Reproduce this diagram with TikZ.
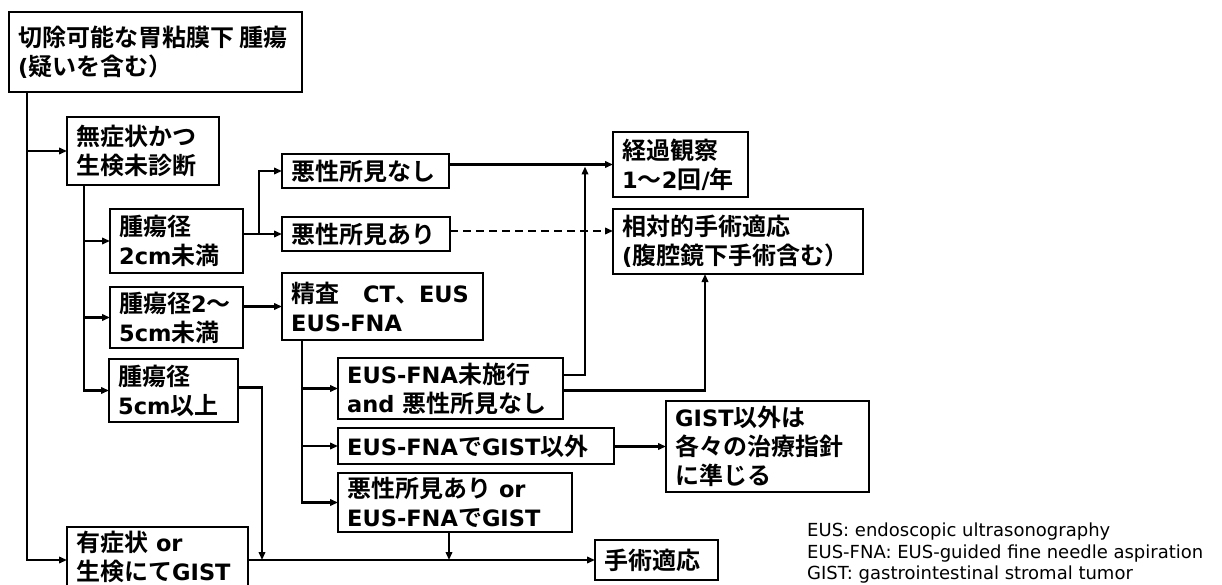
\documentclass[tikz,border=0pt]{standalone}
\usepackage{fontspec}
\usetikzlibrary{arrows.meta}
\newfontfamily\jpfont{Noto Sans CJK JP}[UprightFont=* Bold]
\newfontfamily\enfont{DejaVu Sans}[UprightFont=* Bold]
\newfontfamily\legfont{DejaVu Sans}
\newcommand\EN[1]{{\enfont\fontsize{22.5}{29}\selectfont #1}}
\tikzset{
  boxn/.style={draw, line width=2.6pt, outer sep=0pt, inner sep=0pt, anchor=north west},
  txt/.style={anchor=west, align=left, inner sep=0pt, font=\jpfont\fontsize{24}{29}\selectfont},
  conn/.style={line width=2.2pt, -{Triangle[length=8pt,width=6.5pt]}},
  dashconn/.style={conn, dash pattern=on 8pt off 5pt},
}
\newcommand\bx[6]{%
  \pgfmathsetmacro\bxw{#4-#2}%
  \pgfmathsetmacro\bxh{#5-#3}%
  \node[boxn, minimum width=\bxw pt, minimum height=\bxh pt] (#1) at (#2,#3) {};
  \node[txt] (#1-t) at ([xshift=9pt]#1.west) {#6};
}
\begin{document}
\begin{tikzpicture}[x=1pt,y=-1pt]
\clip (0,0) rectangle (1222,585);
\fill[white] (0,0) rectangle (1222,585);

\bx{top}{9}{12}{302}{92}{切除可能な胃粘膜下 腫瘍\\\EN{(}疑いを含む）}
\bx{asym}{67}{117}{219}{185}{無症状かつ\\生検未診断}
\bx{d2}{110}{209}{243}{273}{腫瘍径\\\EN{2cm}未満}
\bx{d25}{110}{287}{243}{348}{腫瘍径\EN{2}～\\\EN{5cm}未満}
\bx{d5}{109}{359}{238}{422}{腫瘍径\\\EN{5cm}以上}
\bx{sym}{67}{527}{248}{587}{有症状\EN{\ or}\\生検にて\EN{GIST}}
\bx{mn}{282}{154}{449}{188}{悪性所見なし}
\bx{ma}{282}{217}{450}{251}{悪性所見あり}
\bx{exam}{282}{273}{483}{340}{精査　\EN{CT}、\EN{EUS}\\\EN{EUS-FNA}}
\bx{obs}{613}{132}{748}{197}{経過観察\\\EN{1}～\EN{2}回\EN{/}年}
\bx{rel}{613}{209}{863}{274}{相対的手術適応\\\EN{(}腹腔鏡下手術含む）}
\bx{nf}{338}{358}{563}{419}{\EN{EUS-FNA}未施行\\\EN{and\ }悪性所見なし}
\bx{ng}{338}{428}{614}{464}{\EN{EUS-FNA}で\EN{GIST}以外}
\bx{mal}{338}{473}{572}{532}{悪性所見あり\EN{\ or}\\\EN{EUS-FNA}で\EN{GIST}}
\bx{gist}{666}{401}{869}{492}{\EN{GIST}以外は\\各々の治療指針\\に準じる}
\bx{op}{595}{540}{718}{580}{手術適応}

\node[anchor=north west, align=left, inner sep=0pt,
      font=\legfont\fontsize{18}{21.5}\selectfont] (legend) at (807,523)
  {EUS: endoscopic ultrasonography\\EUS-FNA: EUS-guided fine needle aspiration\\GIST: gastrointestinal stromal tumor};

% connectors
\coordinate (tr) at ([xshift=18pt]top.south west);
\draw[conn] (tr) |- ([yshift=-3pt]sym.west);
\draw[conn] (tr |- asym.west) -- (asym.west);
\coordinate (ar) at ([xshift=17pt]asym.south west);
\draw[conn] (ar) |- (d5.west);
\draw[conn] (ar |- d2.west) -- (d2.west);
\draw[conn] (ar |- d25.west) -- (d25.west);
\draw[conn] (d2.east |- ma.west) -- (ma.west);
\coordinate (br) at ([xshift=16pt]d2.east |- ma.west);
\draw[conn] (br) |- (mn.west);
\draw[conn] (mn.east |- obs.west) -- (obs.west);
\draw[dashconn] ([yshift=3pt]ma.east) -- ([yshift=3pt]ma.east -| rel.west);
\draw[conn] (d25.east |- exam.west) -- (exam.west);
\coordinate (er) at ([xshift=20pt]exam.south west);
\draw[conn] (er) |- (mal.west);
\draw[conn] (er |- nf.west) -- (nf.west);
\draw[conn] (er |- ng.west) -- (ng.west);
\coordinate (dr) at ([xshift=24pt]d5.east |- op.west);
\draw[conn] ([yshift=3pt]d5.east) -| (dr);
\draw[conn] (sym.east |- op.west) -- (op.west);
\coordinate (mr) at ([xshift=111pt]mal.south west);
\draw[conn] (mr) -- (mr |- op.west);
\coordinate (nr) at ([xshift=22pt]nf.east |- obs.west);
\draw[conn] ([yshift=-17pt]nf.north east) -| ([yshift=-2pt]nr);
\draw[conn] ([yshift=-2pt]nf.east) -| ([xshift=92pt]rel.south west);
\draw[conn] (ng.east |- gist.west) -- (gist.west);
\end{tikzpicture}
\end{document}
